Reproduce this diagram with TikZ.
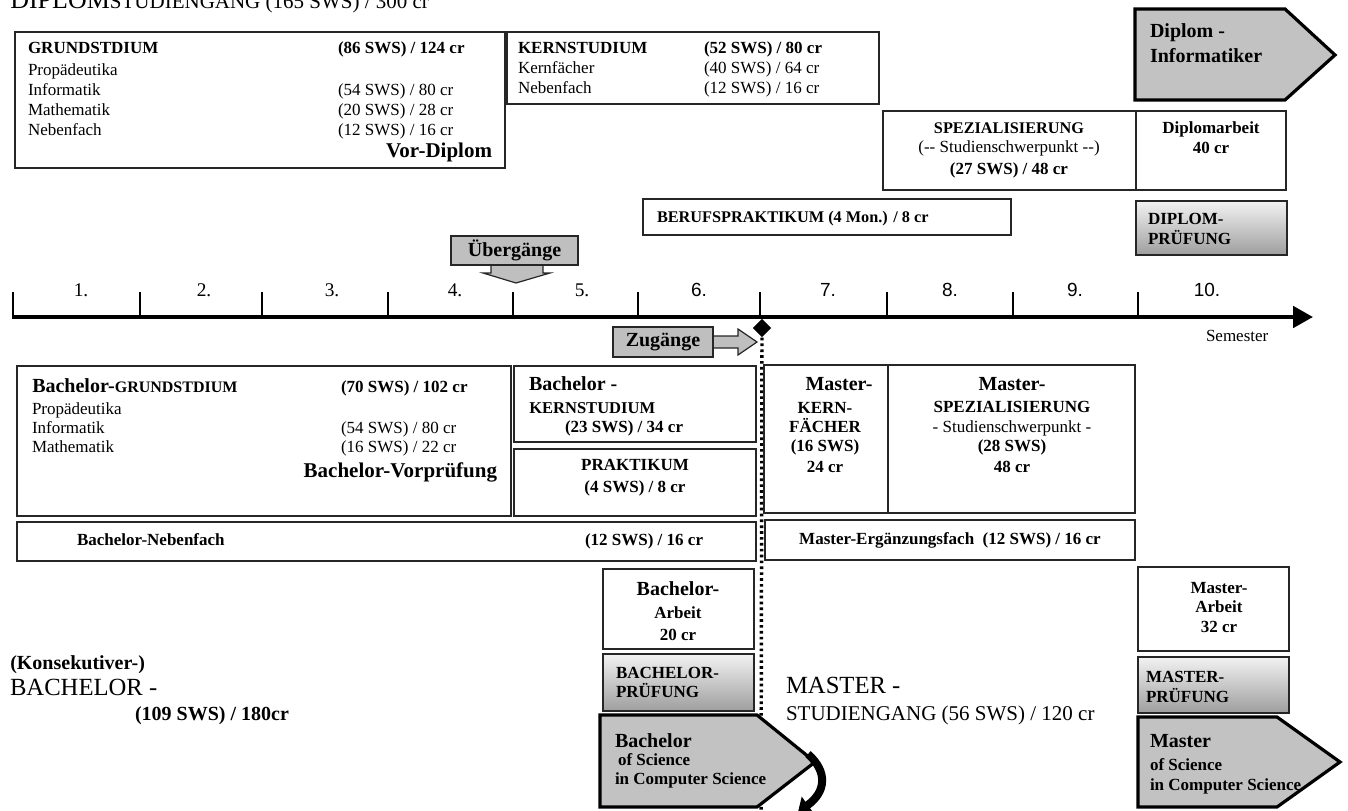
\documentclass[tikz,border=0pt]{standalone}
\usepackage{fontspec}
\setmainfont{Liberation Serif}
\newfontfamily\sansf{Liberation Sans}
\usetikzlibrary{shapes.geometric,arrows.meta}
\newcommand\bx[6]{\node[#6, minimum width={(#4-#2)*0.75pt}, minimum height={(#5-#3)*0.75pt}, anchor=north west] (#1) at (#2,#3) {};}
\begin{document}
\begin{tikzpicture}[x=0.75pt,y=-0.75pt,
  box/.style={draw=black!85, line width=1.1pt, fill=white, inner sep=0, outer sep=0},
  pbox/.style={draw=black!85, line width=1.1pt, inner sep=0, outer sep=0, top color=black!5, bottom color=black!38},
  gbox/.style={draw=black!85, line width=0.9pt, fill=black!25, inner sep=0, outer sep=0},
  pent/.style={draw=black, line width=2.4pt, fill=black!24, line join=miter},
  tn/.style={inner sep=0, outer sep=0, font=\fontsize{12.75}{15}\selectfont},
  tb/.style={inner sep=0, outer sep=0, font=\bfseries\fontsize{12.75}{15}\selectfont},
  tbs/.style={inner sep=0, outer sep=0, font=\bfseries\fontsize{12.2}{15}\selectfont},
  tL/.style={inner sep=0, outer sep=0, font=\bfseries\fontsize{15}{15}\selectfont},
  tXL/.style={inner sep=0, outer sep=0, font=\bfseries\fontsize{15.75}{16}\selectfont},
  tbig/.style={inner sep=0, outer sep=0, font=\fontsize{18.5}{20}\selectfont},
  tmid/.style={inner sep=0, outer sep=0, font=\fontsize{15.75}{18}\selectfont},
  ticks/.style={inner sep=0, outer sep=0, font=\fontsize{14.5}{15}\selectfont},
  tickn/.style={inner sep=0, outer sep=0, font=\sansf\fontsize{14.25}{15}\selectfont}
]
\clip (0,0) rectangle (1348,810);

% ---------- title ----------
\node[inner sep=0, anchor=base west] (title) at (10,8)
  {\fontsize{19.5}{20}\selectfont DIPLOM\fontsize{15.75}{20}\selectfont STUDIENGANG (165 SWS) / 300 cr};

% ---------- Diplom boxes ----------
\bx{gs}{15}{32}{505}{168}{box}
\node[tb, anchor=base west] (gs1) at (28,53) {GRUNDSTDIUM};
\node[tb, anchor=base west] (gs1r) at (338,53) {(86 SWS) / 124 cr};
\node[tn, anchor=base west] (gs2) at (28,75) {Propädeutika};
\node[tn, anchor=base west] (gs3) at (28,95) {Informatik};
\node[tn, anchor=base west] (gs3r) at (338,95) {(54 SWS) / 80 cr};
\node[tn, anchor=base west] (gs4) at (28,115) {Mathematik};
\node[tn, anchor=base west] (gs4r) at (338,115) {(20 SWS) / 28 cr};
\node[tn, anchor=base west] (gs5) at (28,135) {Nebenfach};
\node[tn, anchor=base west] (gs5r) at (338,135) {(12 SWS) / 16 cr};
\node[tXL, anchor=base east] (gs6) at (492,157) {Vor-Diplom};

\bx{ks}{507}{32}{879}{104}{box}
\node[tb, anchor=base west] (ks1) at (518,53) {KERNSTUDIUM};
\node[tb, anchor=base west] (ks1r) at (704,53) {(52 SWS) / 80 cr};
\node[tn, anchor=base west] (ks2) at (518,73) {Kernfächer};
\node[tn, anchor=base west] (ks2r) at (704,73) {(40 SWS) / 64 cr};
\node[tn, anchor=base west] (ks3) at (518,93) {Nebenfach};
\node[tn, anchor=base west] (ks3r) at (704,93) {(12 SWS) / 16 cr};

\draw[pent] (1135,9) -- (1285,9) -- (1335,55) -- (1285,100) -- (1135,100) -- cycle;
\node[tL, anchor=base west] (di1) at (1150,37) {Diplom -};
\node[tL, anchor=base west] (di2) at (1150,62) {Informatiker};

\bx{sp}{883}{111}{1136}{190}{box}
\node[tbs, anchor=base] (sp1) at (1009,133) {SPEZIALISIERUNG};
\node[tn, anchor=base] (sp2) at (1009,152) {(-{}- Studienschwerpunkt -{}-)};
\node[tb, anchor=base] (sp3) at (1009,174) {(27 SWS) / 48 cr};

\bx{da}{1136}{111}{1286}{190}{box}
\node[tb, anchor=base] (da1) at (1211,133) {Diplomarbeit};
\node[tb, anchor=base] (da2) at (1211,153) {40 cr};

\bx{bp}{643}{199}{1011}{235}{box}
\node[tbs, anchor=base west] (bp1) at (657,222) {BERUFSPRAKTIKUM (4 Mon.) / 8 cr};

\bx{dp}{1136}{201}{1287}{255}{pbox}
\node[tb, anchor=base west] (dp1) at (1148,224) {DIPLOM-};
\node[tb, anchor=base west] (dp2) at (1148,244) {PRÜFUNG};

% ---------- Übergänge ----------
\draw[draw=black!85, line width=0.9pt, fill=black!25]
  (491,264) -- (491,273) -- (483,273) -- (516,283) -- (550,273) -- (543,273) -- (543,264);
\bx{ueb}{451}{236}{578}{265}{gbox}
\node[tL] (uebt) at (ueb.center) {Übergänge};

% ---------- axis ----------
\coordinate (ax0) at (12,317);
\coordinate (ax1) at (1313,317);
\draw[line width=3pt, -{Triangle[length=15pt,width=16pt]}] (ax0) -- (ax1);
\foreach \x in {13,140,262,388,513,638,760,887,1013,1138}
  \draw[line width=1.5pt] (\x,292) -- (\x,317);
\foreach \x/\l [count=\i] in {81/1.,204/2.,332/3.,455/4.,582/5.}
  \node[ticks, anchor=base] (lab\i) at (\x,296) {\l};
\foreach \x/\l [count=\i from 6] in {699/6.,828/7.,950/8.,1075/9.,1207/10.}
  \node[tickn, anchor=base] (lab\i) at (\x,296) {\l};
\node[tn, anchor=base west] (sem) at (1206,341) {Semester};

% ---------- Zugänge ----------
\draw[draw=black!85, line width=0.9pt, fill=black!25]
  (712,336) -- (738,336) -- (738,329) -- (757,342) -- (738,355) -- (738,348) -- (712,348);
\bx{zug}{613}{327}{713}{357}{gbox}
\node[tL] (zugt) at (zug.center) {Zugänge};
\node[diamond, fill=black, inner sep=0, minimum width=14pt, minimum height=14pt] (dia) at (762,328) {};
\coordinate (dotend) at (761,815);
\draw[line width=2.6pt, dash pattern=on 2pt off 2.4pt] (dia.south) -- (dotend);

% ---------- Bachelor ----------
\bx{bgs}{17}{366}{511}{516}{box}
\node[inner sep=0, anchor=base west] (bgs1) at (32,392)
  {\bfseries\fontsize{15}{15}\selectfont Bachelor-\fontsize{12}{15}\selectfont GRUNDSTDIUM};
\node[tb, anchor=base west] (bgs1r) at (341,392) {(70 SWS) / 102 cr};
\node[tn, anchor=base west] (bgs2) at (32,414) {Propädeutika};
\node[tn, anchor=base west] (bgs3) at (32,433) {Informatik};
\node[tn, anchor=base west] (bgs3r) at (341,433) {(54 SWS) / 80 cr};
\node[tn, anchor=base west] (bgs4) at (32,452) {Mathematik};
\node[tn, anchor=base west] (bgs4r) at (341,452) {(16 SWS) / 22 cr};
\node[tXL, anchor=base east] (bgs5) at (497,477) {Bachelor-Vorprüfung};

\bx{bks}{514}{366}{756}{442}{box}
\node[tL, anchor=base west] (bks1) at (529,390) {Bachelor -};
\node[inner sep=0, anchor=base west, font=\bfseries\fontsize{12.4}{15}\selectfont] (bks2) at (529,413) {KERNSTUDIUM};
\node[tb, anchor=base west] (bks3) at (565,432) {(23 SWS) / 34 cr};

\bx{bpr}{514}{449}{756}{516}{box}
\node[tb, anchor=base] (bpr1) at (635,470) {PRAKTIKUM};
\node[tb, anchor=base] (bpr2) at (635,492) {(4 SWS) / 8 cr};

\bx{bnf}{17}{522}{756}{561}{box}
\node[tb, anchor=base west] (bnf1) at (77,545) {Bachelor-Nebenfach};
\node[tb, anchor=base west] (bnf2) at (585,545) {(12 SWS) / 16 cr};

\bx{ba}{603}{569}{754}{649}{box}
\node[tL, anchor=base] (ba1) at (678,595) {Bachelor-};
\node[tb, anchor=base] (ba2) at (678,618) {Arbeit};
\node[tb, anchor=base] (ba3) at (678,640) {20 cr};

\bx{bpf}{603}{654}{754}{711}{pbox}
\node[tb, anchor=base west] (bpf1) at (616,678) {BACHELOR-};
\node[tb, anchor=base west] (bpf2) at (616,697) {PRÜFUNG};

\draw[pent] (600,715) -- (757,715) -- (815,762) -- (757,807) -- (600,807) -- cycle;
\node[tL, anchor=base west] (bsc1) at (615,747) {Bachelor};
\node[tb, anchor=base west] (bsc2) at (618,765) {of Science};
\node[tb, anchor=base west] (bsc3) at (615,784) {in Computer Science};
\coordinate (bend0) at (808,754);
\coordinate (bend1) at (798,812);
\draw[line width=6pt, -{Triangle[length=9pt,width=15pt]}] (bend0) .. controls (828,772) and (826,792) .. (bend1);

\node[inner sep=0, anchor=base west, font=\bfseries\fontsize{15}{16}\selectfont] (kons) at (10,669) {(Konsekutiver-)};
\node[tbig, anchor=base west] (bach) at (10,695) {BACHELOR -};
\node[tL, anchor=base west] (bachs) at (135,720) {(109 SWS) / 180cr};

% ---------- Master ----------
\bx{mkf}{764}{365}{888}{513}{box}
\node[tL, anchor=base] (mkf1) at (839,390) {Master-};
\node[tb, anchor=base] (mkf2) at (825,413) {KERN-};
\node[tb, anchor=base] (mkf3) at (825,432) {FÄCHER};
\node[tb, anchor=base] (mkf4) at (825,451) {(16 SWS)};
\node[tb, anchor=base] (mkf5) at (825,472) {24 cr};

\bx{msp}{888}{365}{1135}{513}{box}
\node[tL, anchor=base] (msp1) at (1012,390) {Master-};
\node[tb, anchor=base] (msp2) at (1012,412) {SPEZIALISIERUNG};
\node[tn, anchor=base] (msp3) at (1012,432) {- Studienschwerpunkt -};
\node[tb, anchor=base] (msp4) at (1012,451) {(28 SWS)};
\node[tb, anchor=base] (msp5) at (1012,472) {48 cr};

\bx{mef}{765}{520}{1135}{560}{box}
\node[tb, anchor=base] (mef1) at (950,544) {Master-Ergänzungsfach\ \ (12 SWS) / 16 cr};

\bx{ma}{1138}{567}{1289}{651}{box}
\node[tb, anchor=base] (ma1) at (1219,593) {Master-};
\node[tb, anchor=base] (ma2) at (1219,612) {Arbeit};
\node[tb, anchor=base] (ma3) at (1219,632) {32 cr};

\bx{mpf}{1138}{657}{1289}{713}{pbox}
\node[tb, anchor=base west] (mpf1) at (1146,682) {MASTER-};
\node[tb, anchor=base west] (mpf2) at (1146,702) {PRÜFUNG};

\draw[pent] (1138,717) -- (1277,717) -- (1340,762) -- (1277,807) -- (1138,807) -- cycle;
\node[tL, anchor=base west] (msc1) at (1150,747) {Master};
\node[tb, anchor=base west] (msc2) at (1150,770) {of Science};
\node[tb, anchor=base west] (msc3) at (1150,790) {in Computer Science};

\node[tbig, anchor=base west] (mast) at (786,693) {MASTER -};
\node[tmid, anchor=base west] (masts) at (786,720) {STUDIENGANG (56 SWS) / 120 cr};
\end{tikzpicture}
\end{document}
